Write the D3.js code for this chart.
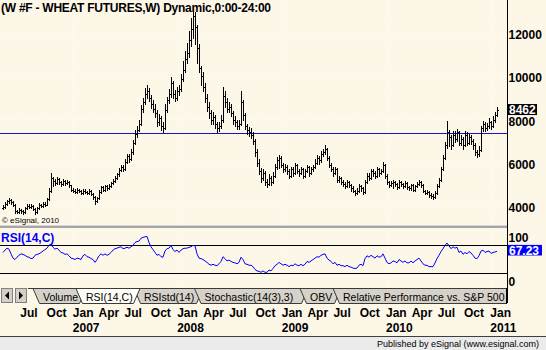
<!DOCTYPE html>
<html>
<head>
<meta charset="utf-8">
<script src="https://cdn.jsdelivr.net/npm/d3@7"></script>
<style>
  html, body { margin: 0; padding: 0; background: #fdf7e8; }
  svg { display: block; }
  text { font-family: "Liberation Sans", Arial, sans-serif; }
</style>
</head>
<body>
<svg id="chart" width="546" height="350"></svg>
<script>
// ---- Weekly wheat futures bars (W #F), first bar week of 2006-04-28 ----
const firstBar = new Date(2006, 3, 28);

const opens = [
  3900,3950,4100,4200,4250,4150,4050,3750,3700,3800,3750,3700,3900,4000,3950,4000,3850,3700,3900,4050,4000,4100,4050,4300,4700,
  5300,5150,5050,5250,5100,5000,5150,5050,5100,4950,4750,4700,4650,4750,4700,4600,4700,4650,4600,4700,4550,4400,4200,4350,4650,4850,4750,4900,
  4800,4900,5050,5150,5300,5450,5650,5800,5700,6050,6300,6150,6500,6900,7350,7500,7800,8500,8800,9200,9300,9000,8700,8500,8300,7900,8050,7700,
  7600,8450,8900,9200,9700,9200,9000,9300,9400,9900,10300,10800,11100,11700,12200,12800,12300,11300,10400,10000,9500,9000,8600,8300,8000,8100,7800,7600,7700,
  8000,9100,8800,8500,8600,8300,8000,7900,7700,7800,8800,8200,7700,7500,7400,7300,7000,6500,6000,5600,5300,5500,5100,5000,5300,5100,5400,5800,
  6100,6200,5900,5700,5800,5600,5400,5700,5500,5900,5600,5500,5700,5400,5600,5800,5500,5700,5800,6000,6200,6100,6400,6500,6650,6200,5900,5700,5500,
  5700,5200,5300,5100,5000,4900,5100,4950,4800,4700,4600,4700,4900,4800,4650,5100,5400,5300,5600,5500,5400,5700,5500,5600,5900,5400,5100,4950,
  5050,5100,5000,4850,5100,5000,4900,5050,4850,4800,4950,4750,4900,5000,5100,4950,4700,4600,4650,4500,4450,4400,4600,4900,5200,5700,6200,6800,
  7400,7200,6800,7300,7100,7400,6900,7100,6800,7300,6900,7200,7000,6800,6500,6400,6600,7600,7800,7600,7700,7900,7700,8000,8200
];
const highs = [
  4020,4180,4280,4360,4300,4200,4080,3820,3880,3860,3800,3960,4080,4060,4100,4040,3880,3950,4120,4100,4170,4150,4380,4800,5520,
  5350,5230,5350,5300,5150,5230,5200,5200,5150,4980,4800,4760,4820,4790,4740,4770,4760,4700,4780,4740,4600,4450,4420,4720,4920,4900,4980,4960,
  5030,5120,5240,5380,5530,5740,5900,5880,6150,6420,6400,6620,7050,7500,7680,7980,8650,9000,9450,9600,9450,9150,8900,8700,8450,8250,8150,7900,
  8700,9050,9400,9950,9800,9350,9500,9600,10100,10700,11200,11550,12100,12700,13150,13000,12400,11500,10500,10200,9700,9200,8800,8450,8350,8200,7900,7900,8200,
  9500,9300,9000,8800,8700,8400,8150,8000,8000,9300,8900,8300,7800,7650,7600,7400,7100,6650,6150,5750,5700,5600,5250,5450,5400,5550,5950,6250,
  6350,6300,6000,5950,5900,5700,5800,5800,6000,5950,5700,5800,5750,5700,5900,5850,5800,5900,6150,6350,6300,6550,6650,6800,6700,6300,6000,5800,5800,
  5750,5400,5350,5200,5100,5200,5150,5000,4900,4750,4800,5000,4950,4850,5200,5500,5500,5700,5700,5600,5800,5750,5700,6050,5950,5450,5150,5150,
  5180,5150,5050,5200,5150,5050,5150,5100,4920,5020,5000,4980,5080,5200,5150,5000,4750,4720,4700,4580,4520,4680,5000,5300,5800,6350,6950,7950,
  7500,7300,7450,7450,7550,7450,7300,7200,7450,7400,7350,7300,7100,6900,6600,6750,7700,7950,7900,7850,8050,7950,8150,8350,8580
];
const lows = [
  3830,3900,4050,4130,4080,3980,3680,3640,3650,3680,3620,3680,3850,3880,3900,3800,3620,3660,3870,3930,3960,3980,4020,4260,4650,
  4900,4950,5000,5020,4900,4950,4980,4990,4880,4680,4620,4580,4600,4630,4540,4560,4590,4530,4560,4490,4330,4100,4150,4320,4600,4680,4700,4740,
  4760,4860,5000,5100,5250,5400,5600,5620,5650,6000,6050,6100,6420,6850,7200,7450,7750,8350,8700,9000,8850,8550,8350,8100,7700,7750,7500,7400,
  7550,8350,8750,9050,9000,8850,8900,9150,9300,9800,10200,10600,10900,11400,11800,11500,10600,10200,9600,9300,8800,8400,8050,7800,7800,7600,7400,7450,7600,
  7900,8600,8350,8350,8150,7800,7700,7550,7550,7750,8000,7550,7350,7250,7150,6850,6300,5850,5450,5100,5200,4950,4850,4950,4950,5050,5350,5700,
  5750,5800,5550,5600,5450,5300,5350,5400,5450,5500,5380,5450,5300,5350,5550,5400,5450,5600,5750,5950,5950,6050,6300,6400,6100,5800,5600,5400,5450,
  5100,5100,5000,4900,4800,4850,4850,4700,4620,4480,4550,4650,4700,4550,4600,5050,5200,5250,5400,5300,5350,5400,5450,5550,5300,5000,4850,4900,
  4820,4920,4780,4800,4920,4820,4850,4780,4720,4750,4680,4700,4850,4950,4880,4620,4520,4550,4420,4350,4300,4350,4550,4850,5150,5650,6150,6700,
  6750,6650,6750,6950,7000,6800,6800,6650,6750,6800,6850,6850,6650,6350,6250,6300,6550,7450,7450,7500,7600,7550,7650,7900,8150
];
const closes = [
  3950,4100,4200,4250,4150,4050,3750,3700,3800,3750,3700,3900,4000,3950,4000,3850,3700,3900,4050,4000,4100,4050,4300,4700,5300,
  5150,5050,5250,5100,5000,5150,5050,5100,4950,4750,4700,4650,4750,4700,4600,4700,4650,4600,4700,4550,4400,4200,4350,4650,4850,4750,4900,4800,
  4900,5050,5150,5300,5450,5650,5800,5700,6050,6300,6150,6500,6900,7350,7500,7800,8500,8800,9200,9300,9000,8700,8500,8300,7900,8050,7700,7600,
  8450,8900,9200,9700,9200,9000,9300,9400,9900,10300,10800,11100,11700,12200,12800,12300,11300,10400,10000,9500,9000,8600,8300,8000,8100,7800,7600,7700,8000,
  9100,8800,8500,8600,8300,8000,7900,7700,7800,8800,8200,7700,7500,7400,7300,7000,6500,6000,5600,5300,5500,5100,5000,5300,5100,5400,5800,6100,
  6200,5900,5700,5800,5600,5400,5700,5500,5900,5600,5500,5700,5400,5600,5800,5500,5700,5800,6000,6200,6100,6400,6500,6650,6200,5900,5700,5500,5700,
  5200,5300,5100,5000,4900,5100,4950,4800,4700,4600,4700,4900,4800,4650,5100,5400,5300,5600,5500,5400,5700,5500,5600,5900,5400,5100,4950,5050,
  5100,5000,4850,5100,5000,4900,5050,4850,4800,4950,4750,4900,5000,5100,4950,4700,4600,4650,4500,4450,4400,4600,4900,5200,5700,6200,6800,7400,
  7200,6800,7300,7100,7400,6900,7100,6800,7300,6900,7200,7000,6800,6500,6400,6600,7600,7800,7600,7700,7900,7700,8000,8200,8462
];
// RSI(14,C), one value per weekly bar
const rsi = [
  65,70,74,72,62,53,50,55,59,62,61,59,56,55,52,53,59,61,62,65,68,71,74,80,83,
  76,72,74,70,65,64,61,62,58,53,52,50,53,52,50,58,61,56,55,52,50,44,50,58,62,59,62,59,
  61,65,70,73,74,76,77,73,74,76,74,77,80,86,88,89,95,97,98,99,86,77,71,65,59,61,56,55,
  68,73,74,80,71,67,70,65,70,73,74,74,76,77,80,79,62,53,52,50,47,44,40,38,40,38,37,41,46,
  56,52,47,49,46,44,43,41,44,55,50,41,40,38,38,35,29,26,25,23,26,23,23,28,26,31,37,40,
  44,41,38,40,38,35,38,37,41,38,37,40,37,40,46,44,47,50,53,56,55,59,61,62,53,49,46,41,44,
  38,40,37,37,35,38,35,34,32,31,32,38,40,37,52,58,55,59,56,53,58,55,56,62,53,44,41,43,
  47,46,43,50,47,44,47,43,43,47,43,47,50,53,47,41,38,38,35,35,35,43,52,59,67,73,80,85,
  79,73,77,74,76,65,68,61,65,62,67,64,59,53,52,58,68,70,65,67,68,63,65,66,67.23
];

const priceTicks = [4000, 6000, 8000, 10000, 12000];
const rsiTicks = [100, 0];
const rsiBands = [80, 20];
const supportLevel = 7360;
const lastPrice = closes[closes.length - 1];
const lastRsi = rsi[rsi.length - 1];
const monthLabels = ["Jan", "Feb", "Mar", "Apr", "May", "Jun", "Jul", "Aug", "Sep", "Oct", "Nov", "Dec"];
const titleText = "(W #F - WHEAT FUTURES,W) Dynamic,0:00-24:00";
const tabLabels = ["Volume", "RSI(14,C)", "RSIstd(14)", "Stochastic(14(3),3)", "OBV", "Relative Performance vs. S&P 500"];
const activeTab = "RSI(14,C)";

// ---- layout ----
const W = 546, H = 350;
const CREAM = "#fdf7e8";
const AXIS_X = 507;
const MAIN_BOTTOM = 225;
const RSI_TOP = 229, RSI_BOTTOM = 288;
const TAB_TOP = 288, TAB_BOTTOM = 303;

const N = closes.length;
const dates = d3.range(N).map(i => d3.timeDay.offset(firstBar, 7 * i));

const x = d3.scaleTime().domain([dates[0], dates[N - 1]]).range([3, 497]);
const y = d3.scaleLinear().domain([4000, 12000]).range([205.7, 33.3]);
const yR = d3.scaleLinear().domain([0, 100]).range([283.2, 235.9]);
const crisp = v => Math.floor(v) + 0.5;

const svg = d3.select("#chart");
svg.append("rect").attr("width", W).attr("height", H).attr("fill", CREAM);

// ---- dotted grid ----
const yearTicks = d3.timeYear.range(dates[0], d3.timeDay.offset(dates[N - 1], 1));
const grid = svg.append("g")
  .attr("stroke", "#ffffff").attr("stroke-dasharray", "1,2").attr("shape-rendering", "crispEdges");
grid.selectAll("line.gh").data(priceTicks).join("line").attr("class", "gh")
  .attr("x1", 0).attr("x2", AXIS_X)
  .attr("y1", d => crisp(y(d))).attr("y2", d => crisp(y(d)));
grid.selectAll("line.gv").data(yearTicks).join("line").attr("class", "gv")
  .attr("x1", d => crisp(x(d))).attr("x2", d => crisp(x(d)))
  .attr("y1", 0).attr("y2", MAIN_BOTTOM);
grid.selectAll("line.gvr").data(yearTicks).join("line").attr("class", "gvr")
  .attr("x1", d => crisp(x(d))).attr("x2", d => crisp(x(d)))
  .attr("y1", RSI_TOP).attr("y2", RSI_BOTTOM);

// ---- horizontal level line ----
svg.append("line")
  .attr("x1", 0).attr("x2", AXIS_X)
  .attr("y1", crisp(y(supportLevel))).attr("y2", crisp(y(supportLevel)))
  .attr("stroke", "#1414c8").attr("shape-rendering", "crispEdges");

// ---- OHLC bars ----
const idx = d3.range(N);
const bars = svg.append("g").attr("fill", "#000").attr("shape-rendering", "crispEdges");
bars.selectAll("rect.hl").data(idx).join("rect").attr("class", "hl")
  .attr("x", i => Math.round(x(dates[i])))
  .attr("y", i => Math.round(y(highs[i])))
  .attr("width", 1)
  .attr("height", i => Math.max(1, Math.round(y(lows[i])) - Math.round(y(highs[i])) + 1));
bars.selectAll("rect.op").data(idx).join("rect").attr("class", "op")
  .attr("x", i => Math.round(x(dates[i])) - 1)
  .attr("y", i => Math.round(y(opens[i])))
  .attr("width", 1).attr("height", 1);
bars.selectAll("rect.cl").data(idx).join("rect").attr("class", "cl")
  .attr("x", i => Math.round(x(dates[i])) + 1)
  .attr("y", i => Math.round(y(closes[i])))
  .attr("width", 1).attr("height", 1);

// ---- title and copyright ----
svg.append("text").attr("x", 1).attr("y", 12)
  .attr("font-size", 12).attr("font-weight", "bold").attr("fill", "#000")
  .attr("textLength", 270).attr("lengthAdjust", "spacing")
  .text(titleText);
svg.append("text").attr("x", 2).attr("y", 223)
  .attr("font-size", 8).attr("fill", "#000")
  .text("\u00a9 eSignal, 2010");

// ---- price axis labels ----
const priceAxis = svg.append("g").attr("font-size", 12).attr("font-weight", "bold");
priceAxis.selectAll("text").data(priceTicks).join("text")
  .attr("x", 508.5).attr("y", d => y(d) + 6)
  .attr("fill", "#000")
  .text(d => d);
const lp = svg.append("g");
lp.append("rect").attr("x", 508).attr("y", y(lastPrice) - 5.5)
  .attr("width", 29).attr("height", 11).attr("fill", "#000");
lp.append("text").attr("x", 509).attr("y", y(lastPrice) + 4.5)
  .attr("font-size", 12).attr("font-weight", "bold").attr("fill", "#fff")
  .text(lastPrice);

// ---- panel splitter ----
svg.append("rect").attr("x", 0).attr("y", MAIN_BOTTOM).attr("width", AXIS_X).attr("height", 3)
  .attr("fill", "#a6a6a6");
svg.append("rect").attr("x", 0).attr("y", MAIN_BOTTOM).attr("width", AXIS_X).attr("height", 1)
  .attr("fill", "#d6d6d6");

// ---- RSI panel ----
svg.append("g").attr("stroke", "#000").attr("shape-rendering", "crispEdges")
  .selectAll("line").data(rsiBands).join("line")
  .attr("x1", 0).attr("x2", AXIS_X)
  .attr("y1", d => crisp(yR(d))).attr("y2", d => crisp(yR(d)));
svg.append("path")
  .attr("d", d3.line().x(i => x(dates[i])).y(i => yR(rsi[i]))(idx))
  .attr("fill", "none").attr("stroke", "#0000ff").attr("stroke-width", 1);
svg.append("text").attr("x", 1).attr("y", 242)
  .attr("font-size", 12).attr("font-weight", "bold").attr("fill", "#0000ff")
  .text("RSI(14,C)");
svg.append("g").attr("font-size", 12).attr("font-weight", "bold")
  .selectAll("text").data(rsiTicks).join("text")
  .attr("x", 508.5).attr("y", d => Math.min(yR(d) + 6, 286))
  .attr("fill", "#000").text(d => d);
svg.append("rect").attr("x", 508).attr("y", yR(lastRsi) - 6.5)
  .attr("width", 34).attr("height", 10.6).attr("fill", "#0000ff");
svg.append("text").attr("x", 509).attr("y", yR(lastRsi) + 3.3)
  .attr("font-size", 12).attr("font-weight", "bold").attr("fill", "#fff")
  .text(d3.format(".2f")(lastRsi));

// ---- right axis line ----
svg.append("line").attr("x1", AXIS_X + 0.5).attr("x2", AXIS_X + 0.5)
  .attr("y1", 0).attr("y2", TAB_BOTTOM)
  .attr("stroke", "#000").attr("shape-rendering", "crispEdges");

// ---- indicator tab strip ----
const strip = svg.append("g").attr("shape-rendering", "crispEdges");
const btnW = 11;
[[1.5, "left"], [15.5, "right"]].forEach(([bx, dir]) => {
  strip.append("rect").attr("x", bx).attr("y", TAB_TOP + 0.5).attr("width", btnW).attr("height", 14)
    .attr("fill", "#d4d0c8").attr("stroke", "#808080");
  const cx = bx + btnW / 2, cy = TAB_TOP + 7.5;
  const pts = dir === "left"
    ? [[cx + 2, cy - 4], [cx + 2, cy + 4], [cx - 2, cy]]
    : [[cx - 2, cy - 4], [cx - 2, cy + 4], [cx + 2, cy]];
  svg.append("polygon").attr("points", pts.map(p => p.join(",")).join(" ")).attr("fill", "#000");
});
svg.append("defs").append("clipPath").attr("id", "tabclip")
  .append("rect").attr("x", 28).attr("y", TAB_TOP - 2).attr("width", AXIS_X - 28).attr("height", 20);
const tabG = svg.append("g").attr("clip-path", "url(#tabclip)");
const tabLeft = [33, 76, 134, 194.5, 300, 333];
const tabRight = [86, 140, 203, 308, 341, 540];
const tabShape = k => {
  const l = tabLeft[k], r = tabRight[k];
  return [[l, TAB_TOP + 0.5], [r, TAB_TOP + 0.5], [r - 6.5, TAB_BOTTOM + 0.5], [l + 6.5, TAB_BOTTOM + 0.5]]
    .map(p => p.join(",")).join(" ");
};
const order = tabLabels.map((t, k) => k).filter(k => tabLabels[k] !== activeTab)
  .concat(tabLabels.map((t, k) => k).filter(k => tabLabels[k] === activeTab));
order.forEach(k => {
  const active = tabLabels[k] === activeTab;
  tabG.append("polygon").attr("points", tabShape(k))
    .attr("fill", active ? "#fffef9" : "#d6d2ca").attr("stroke", "#3a3a3a").attr("stroke-width", 1);
  tabG.append("text").attr("x", tabLeft[k] + 10).attr("y", 300.5)
    .attr("font-size", 10.5).attr("fill", "#000").text(tabLabels[k]);
});
svg.append("line").attr("x1", 28).attr("x2", AXIS_X).attr("y1", TAB_TOP + 0.5).attr("y2", TAB_TOP + 0.5)
  .attr("stroke", "#3a3a3a").attr("shape-rendering", "crispEdges");
svg.append("line").attr("x1", AXIS_X - 0.5).attr("x2", AXIS_X - 0.5).attr("y1", TAB_TOP).attr("y2", TAB_BOTTOM + 1)
  .attr("stroke", "#000").attr("shape-rendering", "crispEdges");

// ---- time axis ----
const quarterTicks = d3.timeMonth.every(3).range(dates[0], d3.timeDay.offset(dates[N - 1], 1));
const tAxis = svg.append("g").attr("font-size", 12).attr("font-weight", "bold").attr("fill", "#000");
tAxis.selectAll("text.m").data(quarterTicks).join("text").attr("class", "m")
  .attr("x", d => x(d) - 1).attr("y", 316.5)
  .text(d => monthLabels[d.getMonth()]);
tAxis.selectAll("text.yr").data(quarterTicks.filter(d => d.getMonth() === 0)).join("text").attr("class", "yr")
  .attr("x", d => x(d) - 1).attr("y", 331.5)
  .text(d => d.getFullYear());

// ---- footer ----
svg.append("rect").attr("x", 0).attr("y", 336).attr("width", W).attr("height", 14).attr("fill", "#ebebeb");
svg.append("line").attr("x1", 0).attr("x2", W).attr("y1", 336.5).attr("y2", 336.5)
  .attr("stroke", "#404040").attr("shape-rendering", "crispEdges");
svg.append("text").attr("x", 539).attr("y", 346.5).attr("text-anchor", "end")
  .attr("font-size", 9).attr("fill", "#000")
  .text("Published by eSignal (www.esignal.com)");
</script>
</body>
</html>
